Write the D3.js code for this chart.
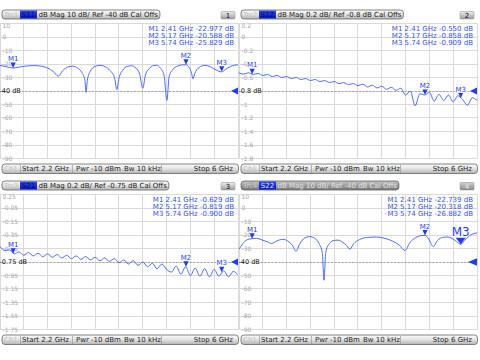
<!DOCTYPE html>
<html><head><meta charset="utf-8">
<script src="https://cdn.jsdelivr.net/npm/d3@7/dist/d3.min.js"></script>
<style>
html,body{margin:0;padding:0;background:#fff;}
svg{display:block;font-family:"DejaVu Sans",Verdana,sans-serif;}
</style></head><body>
<svg id="chart" width="480" height="360"></svg>
<script>
// ---------------- data ----------------
const sweepStartGHz = 2.2, sweepStopGHz = 6.0;
const traceNames = ["S11", "S12", "S21", "S22"];
const traceLabels = ["Trc1", "Trc2", "Trc3", "Trc4"];
const channelLabel = "Ch1";
const titleTexts = ["dB Mag 10 dB/ Ref -40 dB Cal Offs", "dB Mag 0.2 dB/ Ref -0.8 dB Cal Offs",
                    "dB Mag 0.2 dB/ Ref -0.75 dB Cal Offs", "dB Mag 10 dB/ Ref -40 dB Cal Offs"];
const statusTexts = ["Start 2.2 GHz", "Pwr -10 dBm", "Bw 10 kHz", "Stop 6 GHz"];

const markerNames = ["M1", "M2", "M3"];
const markerFreqs = [2.41, 5.17, 5.74];
const s11MarkerDb = [-22.977, -20.588, -25.829];
const s12MarkerDb = [-0.550, -0.858, -0.909];
const s21MarkerDb = [-0.629, -0.819, -0.900];
const s22MarkerDb = [-22.739, -20.318, -26.882];

const dbTicks = [10, 0, -10, -20, -30, -40, -50, -60, -70, -80, -90];
const dbTickLabels = ["10", "0", "-10", "-20", "-30", "-40 dB", "-50", "-60", "-70", "-80", "-90"];
const s12Ticks = [0.2, 0, -0.2, -0.4, -0.6, -0.8, -1.0, -1.2, -1.4, -1.6, -1.8];
const s12TickLabels = ["0.2", "0", "-0.2", "-0.4", "-0.6", "-0.8 dB", "-1", "-1.2", "-1.4", "-1.6", "-1.8"];
const s21Ticks = [0.25, 0.05, -0.15, -0.35, -0.55, -0.75, -0.95, -1.15, -1.35, -1.55, -1.75];
const s21TickLabels = ["0.25", "-0.05", "-0.15", "-0.35", "-0.55", "-0.75 dB", "-0.95", "-1.15", "-1.35", "-1.55", "-1.75"];

const s11Freq = [2.20,2.30,2.41,2.50,2.62,2.74,2.86,2.96,3.05,3.13,3.20,3.28,3.36,3.44,3.51,3.555,3.575,3.595,3.64,3.72,3.80,3.88,3.96,4.03,4.065,4.10,4.16,4.23,4.30,4.37,4.43,4.48,4.52,4.58,4.65,4.70,4.76,4.82,4.865,4.90,4.96,5.04,5.12,5.17,5.22,5.26,5.28,5.31,5.38,5.47,5.56,5.65,5.74,5.80,5.88,6.00];
const s11Db   = [-21.0,-22.0,-23.0,-22.3,-21.5,-21.2,-21.6,-23.0,-25.5,-29.0,-25.0,-22.3,-21.6,-23.0,-26.5,-32.0,-41.0,-32.0,-25.5,-21.8,-21.0,-22.0,-25.0,-30.5,-39.0,-30.5,-24.5,-21.8,-21.3,-23.0,-27.5,-38.0,-28.5,-23.5,-21.2,-21.0,-23.0,-28.5,-47.0,-29.5,-24.0,-21.5,-20.6,-20.6,-22.5,-27.0,-31.0,-27.0,-22.5,-21.0,-22.0,-24.5,-25.8,-24.0,-21.8,-20.5];

const s22Freq = [2.20,2.26,2.33,2.41,2.48,2.56,2.65,2.72,2.80,2.90,2.98,3.05,3.11,3.17,3.25,3.33,3.41,3.48,3.53,3.557,3.585,3.64,3.72,3.78,3.86,3.92,3.97,4.03,4.12,4.25,4.40,4.53,4.65,4.76,4.85,4.93,5.02,5.10,5.17,5.23,5.30,5.37,5.45,5.52,5.60,5.67,5.74,5.80,5.88,6.00];
const s22Db   = [-30.5,-26.5,-23.5,-22.7,-22.5,-23.5,-25.0,-26.3,-24.5,-23.2,-24.5,-27.5,-32.0,-26.5,-22.2,-21.2,-22.5,-26.5,-33.0,-53.5,-33.0,-26.5,-24.0,-23.8,-25.5,-28.0,-30.5,-26.5,-23.5,-21.8,-21.5,-22.5,-24.5,-27.5,-31.5,-25.5,-22.0,-20.5,-20.3,-23.0,-28.5,-24.0,-21.8,-21.5,-22.5,-24.8,-26.9,-24.0,-20.5,-18.4];

const rippleFreq = [2.200,2.276,2.352,2.428,2.504,2.580,2.656,2.732,2.808,2.884,2.960,3.036,3.112,3.188,3.264,3.340,3.416,3.492,3.568,3.644,3.720,3.796,3.872,3.948,4.024,4.100,4.176,4.252,4.328,4.404,4.480,4.556,4.632,4.708,4.784,4.860,4.936,5.012,5.088,5.164,5.240,5.316,5.392,5.468,5.544,5.620,5.696,5.772,5.848,5.924,6.000];
const s12Db = [-0.53,-0.55,-0.53,-0.555,-0.54,-0.57,-0.555,-0.585,-0.57,-0.60,-0.585,-0.615,-0.60,-0.63,-0.615,-0.645,-0.63,-0.66,-0.645,-0.675,-0.66,-0.69,-0.675,-0.705,-0.69,-0.72,-0.70,-0.74,-0.715,-0.755,-0.73,-0.775,-0.745,-0.79,-0.76,-0.86,-0.80,-1.02,-0.84,-0.86,-0.82,-0.95,-0.85,-0.94,-0.86,-0.96,-0.87,-0.93,-1.01,-0.90,-0.94];
const s21Db = [-0.52,-0.58,-0.57,-0.63,-0.60,-0.65,-0.61,-0.66,-0.62,-0.67,-0.63,-0.68,-0.64,-0.69,-0.65,-0.70,-0.66,-0.71,-0.67,-0.72,-0.68,-0.73,-0.69,-0.74,-0.70,-0.76,-0.72,-0.78,-0.73,-0.80,-0.75,-0.82,-0.77,-0.85,-0.78,-0.86,-0.90,-0.81,-0.93,-0.82,-0.95,-0.84,-0.96,-0.85,-0.97,-0.86,-0.96,-0.88,-0.97,-0.89,-0.94];

// ---------------- layout ----------------
const PW = 238, PT = 23.5, PB = 158.5;
const panels = [
  {ox: 0,   oy: 0,   ticks: dbTicks,  labels: dbTickLabels,  freq: s11Freq,    val: s11Db, mk: s11MarkerDb, active: false},
  {ox: 239, oy: 0,   ticks: s12Ticks, labels: s12TickLabels, freq: rippleFreq, val: s12Db, mk: s12MarkerDb, active: false},
  {ox: 0,   oy: 171, ticks: s21Ticks, labels: s21TickLabels, freq: rippleFreq, val: s21Db, mk: s21MarkerDb, active: false},
  {ox: 239, oy: 171, ticks: dbTicks,  labels: dbTickLabels,  freq: s22Freq,    val: s22Db, mk: s22MarkerDb, active: true}
];

const TRACE = "#4d6bff", MARK = "#1e3cff", READ = "#3352ee", GRID = "#dadada";

const svg = d3.select("#chart");
const defs = svg.append("defs");
function grad(id, stops) {
  const lg = defs.append("linearGradient").attr("id", id).attr("x1", 0).attr("y1", 0).attr("x2", 0).attr("y2", 1);
  stops.forEach(s => lg.append("stop").attr("offset", s[0]).attr("stop-color", s[1]));
}
grad("barG", [[0, "#fbfbfb"], [0.45, "#e6e6e6"], [1, "#b4b4b4"]]);
grad("barD", [[0, "#c4c4c4"], [0.45, "#a2a2a2"], [1, "#767676"]]);
grad("blueG", [[0, "#2c48f4"], [1, "#0818b8"]]);
grad("numG", [[0, "#f0f0f0"], [1, "#9c9c9c"]]);
grad("numD", [[0, "#d0d0d0"], [1, "#8a8a8a"]]);

panels.forEach((p, pi) => {
  const g = svg.append("g").attr("transform", `translate(${p.ox},${p.oy})`);
  const x = d3.scaleLinear().domain([sweepStartGHz, sweepStopGHz]).range([0, PW]);
  const y = d3.scaleLinear().domain([p.ticks[10], p.ticks[0]]).range([PB, PT]);
  const xDivs = d3.range(11).map(i => sweepStartGHz + i * (sweepStopGHz - sweepStartGHz) / 10);
  const crisp = v => Math.floor(v) + 0.5;

  // grid
  g.selectAll(".vg").data(xDivs).join("line")
    .attr("x1", d => crisp(x(d))).attr("x2", d => crisp(x(d)))
    .attr("y1", PT).attr("y2", PB).attr("stroke", GRID).attr("stroke-width", 1);
  g.selectAll(".hg").data(p.ticks).join("line")
    .attr("x1", 0).attr("x2", PW)
    .attr("y1", d => crisp(y(d))).attr("y2", d => crisp(y(d)))
    .attr("stroke", GRID).attr("stroke-width", 1);

  // y labels
  p.ticks.forEach((t, i) => {
    if (i === 5) return;
    let yy = y(t);
    if (i === 0) yy = PT + 2.5;
    g.append("text").attr("x", 2.5).attr("y", yy).attr("dy", "0.35em")
      .attr("font-size", 6).attr("fill", "#a6a6a6").text(p.labels[i]);
  });

  // reference line & label
  const yr = y(p.ticks[5]);
  g.append("line").attr("x1", 22).attr("x2", PW - 6).attr("y1", crisp(yr)).attr("y2", crisp(yr))
    .attr("stroke", "#9a9a9a").attr("stroke-dasharray", "2,1.5").attr("stroke-width", 0.8);
  g.append("text").attr("x", -0.5).attr("y", yr).attr("dy", "0.35em")
    .attr("font-size", 6.5).attr("fill", "#111").text(p.labels[5]);

  // trace
  const cid = "clip" + pi;
  defs.append("clipPath").attr("id", cid).append("rect").attr("x", 0).attr("y", PT).attr("width", PW).attr("height", PB - PT);
  const pts = p.freq.map((f, i) => [f, p.val[i]]);
  const line = d3.line().x(d => x(d[0])).y(d => y(d[1])).curve(d3.curveMonotoneX);
  g.append("path").attr("d", line(pts)).attr("fill", "none").attr("stroke", TRACE)
    .attr("stroke-width", 1).attr("clip-path", `url(#${cid})`);

  // markers on trace
  markerNames.forEach((m, i) => {
    const mx = x(markerFreqs[i]), my = y(p.mk[i]);
    const big = p.active && i === 2;
    const hw = big ? 5 : 2.6, h = big ? 6.5 : 5.5;
    g.append("path").attr("d", `M${mx - hw},${my - h}L${mx + hw},${my - h}L${mx},${my}Z`).attr("fill", MARK);
    g.append("text").attr("x", mx).attr("y", my - h - (big ? 2 : 1.2)).attr("text-anchor", "middle")
      .attr("font-size", big ? 12 : 7).attr("fill", MARK)
      .attr("stroke", "#fff").attr("stroke-width", 1.6).attr("paint-order", "stroke").text(m);
  });

  // marker readout
  markerNames.forEach((m, i) => {
    const t = g.append("text").attr("x", 234).attr("y", 30.8 + i * 7).attr("text-anchor", "end")
      .attr("font-size", 7).attr("fill", READ)
      .text(`${m} ${markerFreqs[i].toFixed(2)} GHz ${p.mk[i].toFixed(3)} dB`);
    if (p.active && i === 2) {
      const w = t.node().getComputedTextLength();
      g.append("text").attr("x", 234 - w - 3).attr("y", 30.8 + i * 7).attr("font-size", 7).attr("fill", READ).text("·");
    }
  });

  // reference triangle at right
  const tw = p.active ? 9 : 7, th = p.active ? 3.8 : 3.6;
  g.append("path").attr("d", `M${PW},${yr - th}L${PW},${yr + th}L${PW - tw},${yr}Z`).attr("fill", MARK);

  // title bar
  const tb = g.append("g");
  const bar = tb.append("rect").attr("x", 2).attr("y", 10).attr("height", 9).attr("rx", 3)
    .attr("fill", p.active ? "url(#barD)" : "url(#barG)").attr("stroke", "#666").attr("stroke-width", 0.8);
  tb.append("text").attr("x", 4).attr("y", 17).attr("font-size", 7).attr("fill", p.active ? "#c8c8c8" : "#c4c4c4").text(traceLabels[pi]);
  tb.append("rect").attr("x", 20).attr("y", 10.5).attr("width", 17).attr("height", 8).attr("fill", "url(#blueG)");
  tb.append("text").attr("x", 28.5).attr("y", 17).attr("text-anchor", "middle").attr("font-size", 7)
    .attr("fill", p.active ? "#dfe4ff" : "#0a0a58").text(traceNames[pi]);
  const tt = tb.append("text").attr("x", 38.5).attr("y", 17).attr("font-size", 7)
    .attr("fill", p.active ? "#e2e2e2" : "#1a1a1a").text(titleTexts[pi]);
  bar.attr("width", 38.5 + tt.node().getComputedTextLength());

  // number box
  g.append("rect").attr("x", 221).attr("y", 11.5).attr("width", 14).attr("height", 7.5).attr("rx", 1)
    .attr("fill", p.active ? "url(#numD)" : "url(#numG)").attr("stroke", "#8a8a8a").attr("stroke-width", 0.5);
  g.append("text").attr("x", 228).attr("y", 17.6).attr("text-anchor", "middle").attr("font-size", 7)
    .attr("fill", p.active ? "#e8e8e8" : "#111").text(String(pi + 1));

  // status bar
  g.append("rect").attr("x", 2).attr("y", 164).attr("width", 236.5).attr("height", 9.5).attr("rx", 3)
    .attr("fill", "url(#barG)").attr("stroke", "#666").attr("stroke-width", 0.8);
  const sy = 171.3;
  g.append("text").attr("x", 4).attr("y", sy).attr("font-size", 7).attr("fill", "#c2c2c2").text(channelLabel);
  [20.5, 72.5, 161.5].forEach(sx => g.append("line").attr("x1", sx).attr("x2", sx).attr("y1", 165).attr("y2", 173)
    .attr("stroke", "#9a9a9a").attr("stroke-width", 0.7));
  g.append("text").attr("x", 22).attr("y", sy).attr("font-size", 7).attr("fill", "#1e1e1e").text(statusTexts[0]);
  g.append("text").attr("x", 76).attr("y", sy).attr("font-size", 7).attr("fill", "#1e1e1e").text(statusTexts[1]);
  g.append("text").attr("x", 124).attr("y", sy).attr("font-size", 7).attr("fill", "#1e1e1e").text(statusTexts[2]);
  g.append("text").attr("x", 233).attr("y", sy).attr("text-anchor", "end").attr("font-size", 7).attr("fill", "#1e1e1e").text(statusTexts[3]);
});
</script>
</body></html>
